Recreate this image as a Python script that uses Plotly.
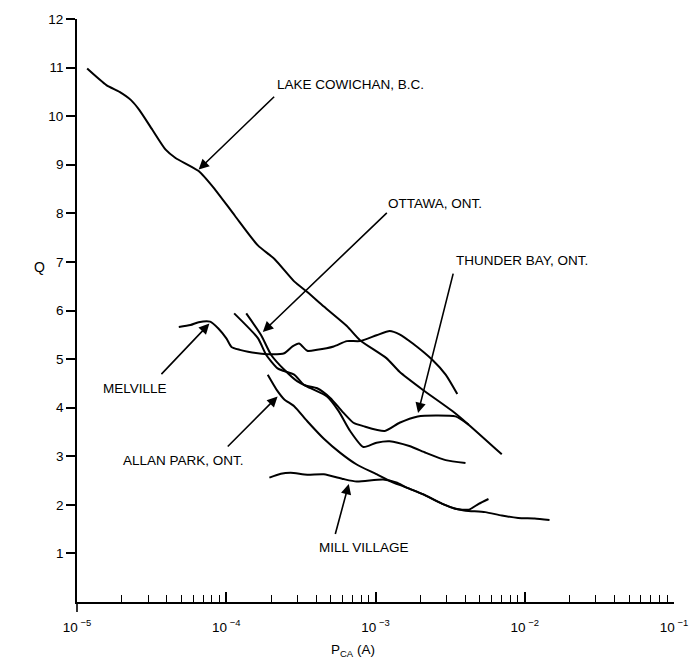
import plotly.graph_objects as go

# Q versus P_CA(A) for each site; x values are log10(P_CA)
lake_logp = [-4.932, -4.803, -4.715, -4.638, -4.583, -4.495, -4.406, -4.340, -4.185, -4.075,
             -3.942, -3.788, -3.677, -3.545, -3.457, -3.346, -3.192, -3.104, -2.927, -2.839,
             -2.684, -2.485, -2.376, -2.154]
lake_q = [10.98, 10.64, 10.50, 10.33, 10.13, 9.72, 9.31, 9.14, 8.87, 8.49,
          7.95, 7.34, 7.06, 6.60, 6.38, 6.08, 5.68, 5.39, 5.02, 4.74,
          4.37, 3.93, 3.65, 3.04]

melville_logp = [-4.318, -4.240, -4.185, -4.108, -4.053, -3.998, -3.965, -3.909, -3.854, -3.722,
                 -3.611, -3.556, -3.512, -3.457, -3.391, -3.280, -3.192, -3.104, -2.993, -2.905,
                 -2.839, -2.750, -2.618, -2.530, -2.452]
melville_q = [5.66, 5.70, 5.76, 5.77, 5.63, 5.42, 5.25, 5.19, 5.15, 5.10,
              5.12, 5.26, 5.32, 5.17, 5.19, 5.26, 5.37, 5.37, 5.49, 5.58,
              5.51, 5.32, 4.98, 4.68, 4.28]

thunder_logp = [-3.947, -3.788, -3.733, -3.656, -3.545, -3.479, -3.391, -3.303, -3.225, -3.148,
                -3.081, -2.938, -2.839, -2.717, -2.596, -2.464, -2.376]
thunder_q = [5.94, 5.43, 5.09, 4.81, 4.68, 4.47, 4.40, 4.20, 3.93, 3.69,
             3.62, 3.52, 3.69, 3.82, 3.84, 3.82, 3.65]

ottawa_logp = [-3.866, -3.766, -3.700, -3.611, -3.523, -3.435, -3.325, -3.247, -3.170, -3.081,
               -2.993, -2.905, -2.773, -2.662, -2.530, -2.397]
ottawa_q = [5.94, 5.49, 5.09, 4.78, 4.54, 4.40, 4.23, 3.93, 3.52, 3.19,
            3.28, 3.31, 3.21, 3.07, 2.92, 2.86]

allan_logp = [-3.722, -3.656, -3.611, -3.545, -3.457, -3.346, -3.236, -3.126, -2.993, -2.905,
              -2.795, -2.684, -2.552, -2.464, -2.397, -2.265, -2.154, -2.044, -1.934, -1.834]
allan_q = [4.68, 4.34, 4.17, 4.03, 3.72, 3.36, 3.07, 2.83, 2.63, 2.49,
           2.36, 2.22, 2.02, 1.92, 1.88, 1.85, 1.78, 1.73, 1.72, 1.69]

mill_logp = [-3.711, -3.634, -3.568, -3.457, -3.346, -3.214, -3.126, -2.949, -2.861, -2.795,
             -2.684, -2.552, -2.464, -2.375, -2.309, -2.243]
mill_q = [2.56, 2.64, 2.66, 2.62, 2.63, 2.53, 2.48, 2.52, 2.46, 2.36,
          2.22, 2.02, 1.92, 1.90, 2.02, 2.12]

x_tick_exp = [-5, -4, -3, -2, -1]
x_tick_text = ["10<sup> −5</sup>", "10<sup> −4</sup>", "10<sup> −3</sup>", "10<sup> −2</sup>", "10<sup> −1</sup>"]
y_ticks = [1, 2, 3, 4, 5, 6, 7, 8, 9, 10, 11, 12]

# site labels: (text, x log10, Q, anchor)
labels = [
    ("LAKE COWICHAN, B.C.", -3.675, 10.65, "left"),
    ("OTTAWA, ONT.", -2.927, 8.20, "left"),
    ("THUNDER BAY, ONT.", -2.477, 7.03, "left"),
    ("MELVILLE", -4.384, 4.40, "right"),
    ("ALLAN PARK, ONT.", -3.868, 2.92, "right"),
    ("MILL VILLAGE", -3.391, 1.12, "left"),
]
# pointer arrows: (tail x, tail Q, head x, head Q)
pointers = [
    (-3.669, 10.43, -4.185, 8.90),
    (-2.914, 8.04, -3.755, 5.56),
    (-2.477, 6.79, -2.715, 3.89),
    (-4.444, 4.66, -4.113, 5.73),
    (-4.000, 3.17, -3.656, 4.23),
    (-3.272, 1.37, -3.179, 2.43),
]

FONT = "Liberation Sans, Arial, Helvetica, sans-serif"

fig = go.Figure()
series = [
    (lake_logp, lake_q), (melville_logp, melville_q), (thunder_logp, thunder_q),
    (ottawa_logp, ottawa_q), (allan_logp, allan_q), (mill_logp, mill_q),
]
for lx, q in series:
    fig.add_trace(go.Scatter(
        x=[10 ** v for v in lx], y=q, mode="lines",
        line=dict(color="black", width=2, shape="spline", smoothing=0.6),
        showlegend=False, hoverinfo="skip",
    ))

for text, x, y, anchor in labels:
    fig.add_annotation(x=x, y=y, xref="x", yref="y", text=text, showarrow=False,
                       xanchor=anchor, yanchor="middle",
                       font=dict(family=FONT, size=13.5, color="black"))

for tx, ty, hx, hy in pointers:
    fig.add_annotation(x=hx, y=hy, ax=tx, ay=ty, xref="x", yref="y",
                       axref="x", ayref="y", text="", showarrow=True,
                       arrowhead=2, arrowsize=1.3, arrowwidth=1.6, arrowcolor="black")

fig.add_annotation(x=0.462, y=-0.083, xref="paper", yref="paper",
                   xanchor="center", yanchor="middle",
                   text="P<sub>CA</sub> (A)", showarrow=False,
                   font=dict(family=FONT, size=13.5, color="black"))
fig.add_annotation(x=-0.062, y=0.574, xref="paper", yref="paper",
                   xanchor="center", yanchor="middle",
                   text="Q", showarrow=False,
                   font=dict(family=FONT, size=14, color="black"))

# short stub of the vertical axis below the origin
fig.add_shape(type="line", xref="paper", yref="paper", x0=0, x1=0, y0=0, y1=-0.017,
              line=dict(color="black", width=1.6))

fig.update_xaxes(
    type="log", range=[-5, -1],
    showline=True, linecolor="black", linewidth=1.8,
    ticks="inside", ticklen=10, tickwidth=1.6, tickcolor="black",
    tickvals=[10 ** e for e in x_tick_exp], ticktext=x_tick_text,
    tickfont=dict(family=FONT, size=13.5, color="black"),
    ticklabelstandoff=12,
    minor=dict(ticks="inside", ticklen=7, tickwidth=1.3, tickcolor="black", dtick="D1", showgrid=False),
    showgrid=False, zeroline=False,
)
fig.update_yaxes(
    range=[0, 12],
    showline=True, linecolor="black", linewidth=1.8,
    ticks="outside", ticklen=9, tickwidth=1.6, tickcolor="black",
    tickvals=y_ticks, tickfont=dict(family=FONT, size=13.5, color="black"),
    showgrid=False, zeroline=False,
)
fig.update_layout(
    width=700, height=662,
    margin=dict(l=77, r=19, t=15, b=60),
    plot_bgcolor="white", paper_bgcolor="white",
)
fig.write_html("out.html")
